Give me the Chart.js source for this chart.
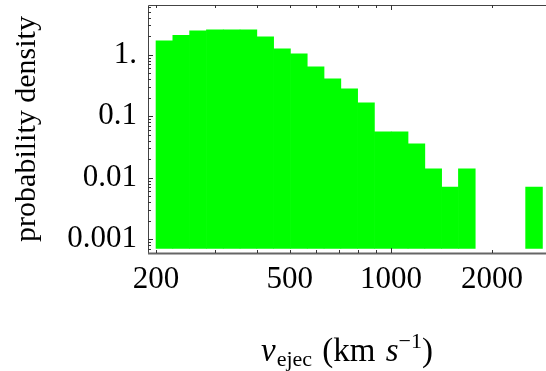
<!DOCTYPE html>
<html>
<head>
<meta charset="utf-8">
<script src="https://cdn.jsdelivr.net/npm/chart.js@4.4.0/dist/chart.umd.min.js"></script>
<style>
  body { margin: 0; background: #fff; }
  #wrap { position: relative; width: 546px; height: 371px; overflow: hidden; }
  #xtitle {
    position: absolute; left: 148px; width: 398px; top: 332px;
    text-align: center; font-family: "Liberation Serif", serif; font-size: 33px;
    color: #000; line-height: 37px; white-space: nowrap; word-spacing: 2px;
  }
  #xtitle sub { font-size: 22px; vertical-align: -5px; line-height: 0; margin-left: 1px; }
  #xtitle sup { font-size: 22px; vertical-align: 13px; line-height: 0; }
</style>
</head>
<body>
<div id="wrap">
  <canvas id="histChart" width="546" height="371"></canvas>
  <div id="xtitle"><i>v</i><sub>ejec</sub> (km <i>s</i><sup>−1</sup>)</div>
</div>
<script>
// bin edges of the histogram (km/s), log spaced
const binEdges = [200, 224.4, 251.8, 282.5, 317.0, 355.7, 399.1, 447.7, 502.4, 563.7,
    632.5, 709.7, 796.2, 893.4, 1002.4, 1124.7, 1262.0, 1416.0, 1588.7, 1782.6,
    2000.1, 2244.2, 2518.1, 2825.3];
// probability density in each bin (null = empty bin)
const density = [1.71, 2.09, 2.49, 2.58, 2.58, 2.58, 1.99, 1.27, 1.05, 0.645,
    0.411, 0.283, 0.167, 0.0564, 0.0564, 0.0359, 0.0141, 0.00716, 0.0141, null,
    null, null, 0.00716];
const barBase = 0.0007;

const xLabelTicks = [200, 500, 1000, 2000];
const xMinorTicks = [300, 400, 600, 700, 800, 900];
const yMajorTicks = [0.001, 0.01, 0.1, 1];
const yTickLabels = { 0.001: '0.001', 0.01: '0.01', 0.1: '0.1', 1: '1.' };
const yMinorTicks = [0.0007, 0.0008, 0.0009,
    0.002, 0.003, 0.004, 0.005, 0.006, 0.007, 0.008, 0.009,
    0.02, 0.03, 0.04, 0.05, 0.06, 0.07, 0.08, 0.09,
    0.2, 0.3, 0.4, 0.5, 0.6, 0.7, 0.8, 0.9,
    2, 3, 4, 5, 6];

const points = [];
density.forEach((d, i) => {
    if (d === null) return;
    points.push({ x: Math.sqrt(binEdges[i] * binEdges[i + 1]), y: [barBase, d] });
});

// frame + inward ticks, Mathematica style
const framePlugin = {
    id: 'frame',
    afterDraw(chart) {
        const { ctx, chartArea: a, scales } = chart;
        ctx.save();
        ctx.strokeStyle = '#444';
        ctx.lineWidth = 1;
        ctx.beginPath();
        ctx.moveTo(a.right + 2, a.top + 0.5);
        ctx.lineTo(a.left + 0.5, a.top + 0.5);
        ctx.lineTo(a.left + 0.5, a.bottom);
        ctx.stroke();
        ctx.strokeStyle = '#666';
        ctx.lineWidth = 2;
        ctx.beginPath();
        ctx.moveTo(a.left, a.bottom + 0.5);
        ctx.lineTo(a.right + 2, a.bottom + 0.5);
        ctx.stroke();

        ctx.strokeStyle = '#333';
        ctx.lineWidth = 1;
        ctx.beginPath();
        xLabelTicks.concat(xMinorTicks).forEach(v => {
            const px = Math.round(scales.x.getPixelForValue(v)) + 0.5;
            const len = (v === 1000) ? 5 : 3;
            ctx.moveTo(px, a.bottom);
            ctx.lineTo(px, a.bottom - len);
            ctx.moveTo(px, a.top);
            ctx.lineTo(px, a.top + len);
        });
        yMajorTicks.forEach(v => {
            const py = Math.round(scales.y.getPixelForValue(v)) + 0.5;
            ctx.moveTo(a.left, py);
            ctx.lineTo(a.left + 5, py);
        });
        yMinorTicks.forEach(v => {
            const py = Math.round(scales.y.getPixelForValue(v)) + 0.5;
            ctx.moveTo(a.left, py);
            ctx.lineTo(a.left + 3, py);
        });
        ctx.stroke();
        ctx.restore();
    }
};

new Chart(document.getElementById('histChart'), {
    type: 'bar',
    data: {
        datasets: [{
            data: points,
            backgroundColor: '#00ff00',
            borderWidth: 0,
            barPercentage: 1.04,
            categoryPercentage: 1
        }]
    },
    options: {
        responsive: false,
        animation: false,
        layout: { padding: { top: 5, left: 0, right: 0, bottom: 0 } },
        plugins: {
            legend: { display: false },
            tooltip: { enabled: false }
        },
        scales: {
            x: {
                type: 'logarithmic',
                offset: false,
                min: 189.3,
                max: 2895,
                grid: { display: false, drawTicks: false },
                border: { display: false },
                afterBuildTicks: scale => {
                    scale.ticks = xLabelTicks.map(v => ({ value: v }));
                },
                afterFit: scale => {
                    scale.height = 118;
                    scale.paddingLeft = 0;
                    scale.paddingRight = 0;
                },
                ticks: {
                    autoSkip: false,
                    maxRotation: 0,
                    padding: 8,
                    color: '#000',
                    font: { family: 'Liberation Serif', size: 31 },
                    callback: v => String(v)
                }
            },
            y: {
                type: 'logarithmic',
                min: 0.000596,
                max: 6.46,
                grid: { display: false, drawTicks: false },
                border: { display: false },
                afterBuildTicks: scale => {
                    scale.ticks = yMajorTicks.map(v => ({ value: v }));
                },
                afterFit: scale => {
                    scale.width = 148;
                    scale.paddingTop = 0;
                    scale.paddingBottom = 0;
                },
                title: {
                    display: true,
                    text: 'probability density',
                    color: '#000',
                    font: { family: 'Liberation Serif', size: 30 },
                    padding: { top: 9, bottom: 0 }
                },
                ticks: {
                    autoSkip: false,
                    padding: 11,
                    color: '#000',
                    font: { family: 'Liberation Serif', size: 31 },
                    callback: v => yTickLabels[v] || ''
                }
            }
        }
    },
    plugins: [framePlugin]
});
</script>
</body>
</html>
